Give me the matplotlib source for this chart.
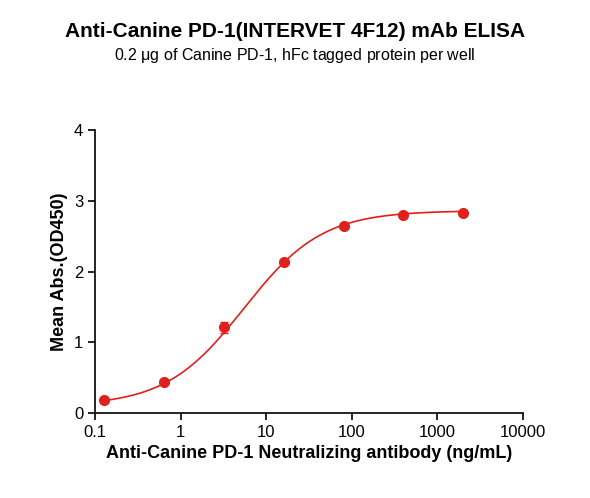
import numpy as np
import matplotlib
matplotlib.use("Agg")
import matplotlib.pyplot as plt

plt.rcParams['font.family'] = ['Liberation Sans', 'DejaVu Sans']

conc = [0.128, 0.64, 3.2, 16, 80, 400, 2000]
od = [0.18, 0.44, 1.21, 2.13, 2.64, 2.80, 2.83]
err = [0.0, 0.0, 0.08, 0.0, 0.0, 0.0, 0.0]
# 4PL fit parameters: bottom, top, EC50, hill
fit_params = [0.1, 2.86, 5.5, 0.95]

fig = plt.figure(figsize=(5.9, 4.98), dpi=100)
ax = fig.add_axes([95/590, 85/498, 428/590, 283/498])
b, t, ec, h = fit_params
xs = np.logspace(np.log10(conc[0]), np.log10(conc[-1]), 300)
ax.plot(xs, b + (t - b) / (1 + (ec / xs) ** h), color="#e0201b", lw=1.2)
ax.errorbar(conc, od, yerr=err, fmt="o", color="#e0201b", ms=7, capsize=3, elinewidth=1.5)
ax.set_xscale("log")
ax.set_xlim(0.1, 10000)
ax.set_ylim(0, 4)
ax.set_xticks([0.1, 1, 10, 100, 1000, 10000])
ax.set_xticklabels(["0.1", "1", "10", "100", "1000", "10000"])
ax.set_yticks([0, 1, 2, 3, 4])
ax.minorticks_off()
for s in ["top", "right"]:
    ax.spines[s].set_visible(False)
for s in ["left", "bottom"]:
    ax.spines[s].set_linewidth(1.2)
ax.tick_params(labelsize=12, width=1.2, length=5)
ax.set_xlabel("Anti-Canine PD-1 Neutralizing antibody (ng/mL)", fontsize=13, fontweight="bold")
ax.set_ylabel("Mean Abs.(OD450)", fontsize=13, fontweight="bold")
fig.text(0.5, 0.925, "Anti-Canine PD-1(INTERVET 4F12) mAb ELISA", ha="center", fontsize=15, fontweight="bold")
fig.text(0.5, 0.88, "0.2 $\\mathregular{\\mu}$g of Canine PD-1, hFc tagged protein per well", ha="center", fontsize=11.5)
fig.savefig("out.png", dpi=100)
